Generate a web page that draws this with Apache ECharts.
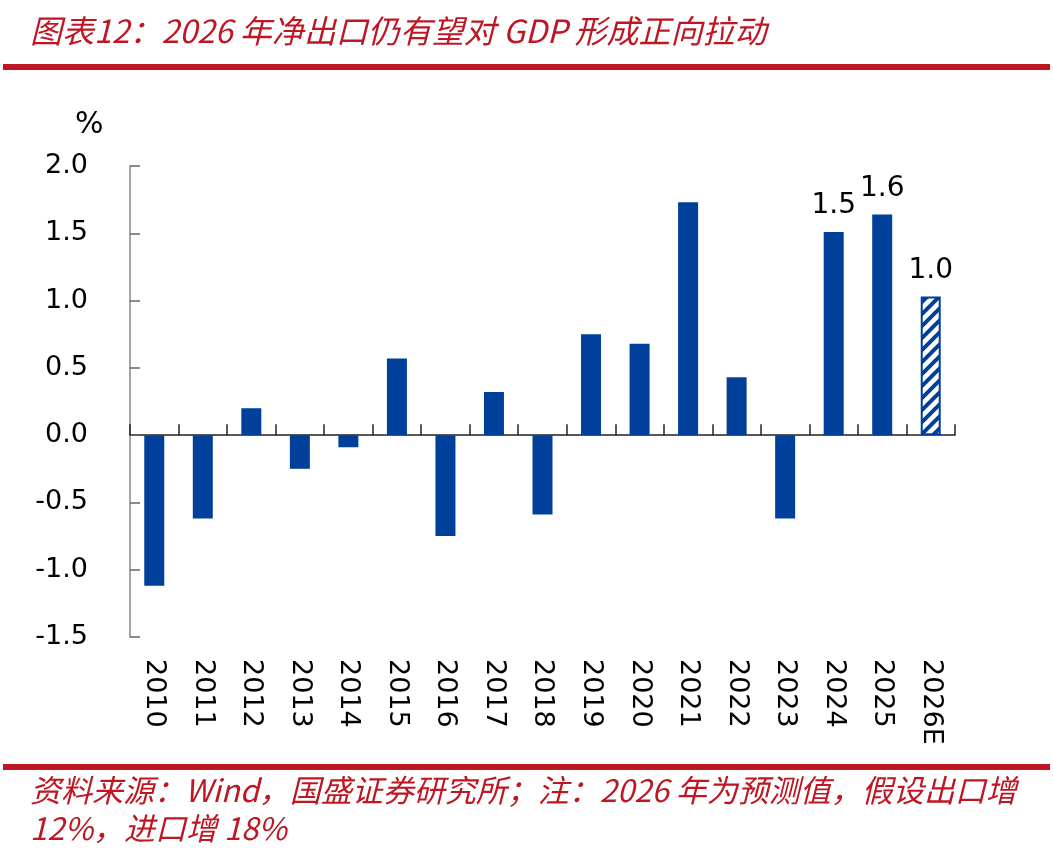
<!DOCTYPE html>
<html><head><meta charset="utf-8">
<script src="https://cdn.jsdelivr.net/npm/echarts@6/dist/echarts.min.js"></script>
<style>html,body{margin:0;padding:0;background:#fff}#c{width:1053px;height:858px}</style>
</head><body><div id="c"></div>
<script>
const categories = ['2010','2011','2012','2013','2014','2015','2016','2017','2018','2019','2020','2021','2022','2023','2024','2025','2026E'];
const values = [-1.12,-0.62,0.20,-0.25,-0.09,0.57,-0.75,0.32,-0.59,0.75,0.68,1.73,0.43,-0.62,1.51,1.64,1.03];
const labelTexts = ['','','','','','','','','','','','','','','1.5','1.6','1.0'];
const forecastIndex = 16;
const titleText = '图表12：2026 年净出口仍有望对 GDP 形成正向拉动';
const noteLine1 = '资料来源：Wind，国盛证券研究所；注：2026 年为预测值，假设出口增';
const noteLine2 = '12%，进口增 18%';

const BLUE = '#00409A', RED = '#BE1622';
const pc = document.createElement('canvas');
pc.width = 12; pc.height = 12;
const g = pc.getContext('2d');
g.fillStyle = '#fff'; g.fillRect(0,0,12,12);
g.strokeStyle = BLUE; g.lineWidth = 4;
g.beginPath();
g.moveTo(-2,14); g.lineTo(14,-2);
g.moveTo(-8,8); g.lineTo(8,-8);
g.moveTo(4,20); g.lineTo(20,4);
g.stroke();

const chart = echarts.init(document.getElementById('c'));
const font = 'Verdana, "DejaVu Sans", sans-serif';
const cjk = '"Noto Sans CJK SC", sans-serif';
const data = values.map((v,i)=>{
  const d = {value:v};
  if (i===forecastIndex) d.itemStyle = {color:{image:pc,repeat:'repeat'}, borderColor:BLUE, borderWidth:2};
  return d;
});
chart.setOption({
  animation:false,
  grid:{left:130,right:98,top:166,bottom:221},
  xAxis:[{
    type:'category',data:categories,position:'bottom',
    axisLine:{show:false,onZero:false},axisTick:{show:false},
    axisLabel:{rotate:-90,margin:22,fontSize:27,color:'#000',fontFamily:font,interval:0}
  },{
    type:'category',data:categories,position:'bottom',
    axisLine:{show:true,onZero:true,lineStyle:{color:'#222',width:1.5}},
    axisTick:{show:true,inside:true,length:11,lineStyle:{color:'#222',width:1.5}},
    axisLabel:{show:false}
  }],
  yAxis:{
    type:'value',min:-1.5,max:2.0,interval:0.5,
    axisLine:{show:true,lineStyle:{color:'#888',width:1.5}},
    axisTick:{show:true,inside:true,length:10,lineStyle:{color:'#666',width:1.5}},
    splitLine:{show:false},
    axisLabel:{margin:42,fontSize:27,color:'#000',fontFamily:font,formatter:v=>v.toFixed(1)}
  },
  series:[{
    type:'bar',data:data,barWidth:20,itemStyle:{color:BLUE},
    label:{show:true,position:'top',distance:12,fontSize:28,color:'#000',fontFamily:font,
      formatter:p=>labelTexts[p.dataIndex]}
  }],
  graphic:[
    {type:'text',left:30,top:15,style:{text:titleText,fill:RED,font:'italic 32px '+cjk}},
    {type:'rect',shape:{x:3,y:64,width:1047,height:6},style:{fill:RED}},
    {type:'text',left:75,top:110,style:{text:'%',fill:'#000',font:'30px '+font}},
    {type:'rect',shape:{x:3,y:764,width:1047,height:6},style:{fill:RED}},
    {type:'text',left:30,top:775,style:{text:noteLine1,fill:RED,font:'italic 31px '+cjk}},
    {type:'text',left:30,top:813,style:{text:noteLine2,fill:RED,font:'italic 31px '+cjk}}
  ]
});
</script></body></html>
